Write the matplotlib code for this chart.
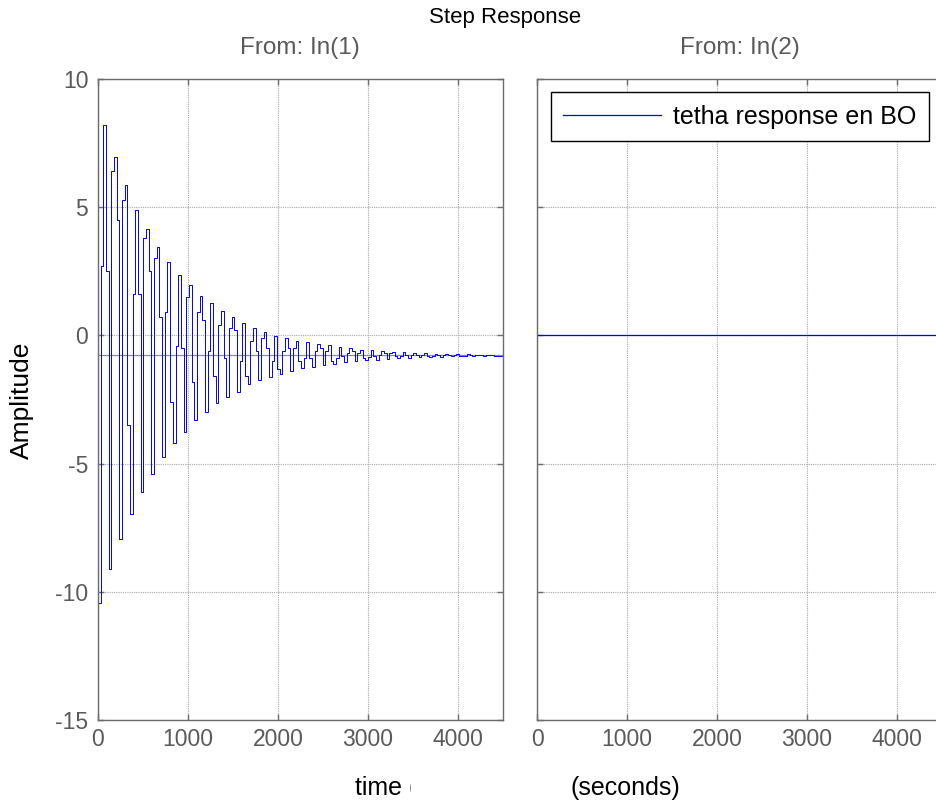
"""
Step response of the two-input plant, one panel per input.
Left: discrete output for In(1); right: the flat response for In(2).
"""

import matplotlib

matplotlib.use("Agg")
import matplotlib.pyplot as plt
from matplotlib.transforms import Bbox

# sample period of the discrete model (s)
SAMPLE_TIME = 29.7
T_END = 4500
STEADY_STATE = -0.78

# one entry per oscillation cycle: trough -> rise -> peak -> fall -> next trough
troughs = [-10.45, -9.1, -7.95, -6.95, -6.1, -5.4, -4.75, -4.2, -3.75, -3.3,
           -2.97, -2.65, -2.4, -2.2, -1.9, -1.75, -1.63, -1.5, -1.37, -1.28,
           -1.22, -1.16, -1.1, -1.05, -1.01, -0.97, -0.94, -0.91, -0.89, -0.87,
           -0.85, -0.84, -0.83, -0.82, -0.81, -0.8, -0.8, -0.79]
rises = [2.7, 6.4, 5.3, 1.6, 3.8, 3.0, 0.9, -0.4, 1.5, 0.9,
         -0.6, 0.4, 0.3, -1.0, -0.2, -0.1, -1.0, -0.6, -0.5, -0.9,
         -0.6, -0.6, -0.9, -0.7, -0.7, -0.85, -0.75, -0.7, -0.8, -0.75,
         -0.75, -0.8, -0.77, -0.76, -0.79, -0.78, -0.77]
peaks = [8.2, 6.95, 5.86, 4.9, 4.14, 3.44, 2.85, 2.34, 1.95, 1.52,
         1.25, 0.94, 0.7, 0.47, 0.29, 0.13, -0.03, -0.1, -0.2, -0.26,
         -0.35, -0.39, -0.45, -0.5, -0.55, -0.58, -0.61, -0.64, -0.66, -0.68,
         -0.7, -0.71, -0.72, -0.73, -0.74, -0.75, -0.76]
falls = [2.5, 4.5, -3.5, 1.6, 2.5, 0.7, -2.6, -0.5, -1.8, 0.6,
         -1.6, -0.9, 0.2, -1.6, -0.6, -0.5, -1.3, -0.5, -1.0, -0.9,
         -0.5, -1.0, -0.8, -0.6, -0.9, -0.8, -0.7, -0.8, -0.78, -0.75,
         -0.8, -0.78, -0.77, -0.79, -0.78, -0.78, -0.78]

# input 2 does not reach the output
in2_time = [0, T_END]
in2_resp = [0, 0]

x_ticks = [0, 1000, 2000, 3000, 4000]
y_ticks = [-15, -10, -5, 0, 5, 10]

BLUE = "#0000ff"
AXIS_GRAY = "#6b6b6b"
LABEL_GRAY = "#5a5a5a"
FONT = "Liberation Sans"

plt.rcParams["font.family"] = [FONT, "DejaVu Sans"]
plt.rcParams["axes.unicode_minus"] = False

samples = []
for k in range(len(peaks)):
    samples += [troughs[k], rises[k], peaks[k], falls[k]]
samples.append(troughs[-1])
times = [i * SAMPLE_TIME for i in range(len(samples))]
# start from rest, hold the last sample to the end of the window
t_plot = [0] + times + [T_END]
y_plot = [0] + samples + [samples[-1]]

W, H = 936, 802
fig = plt.figure(figsize=(W / 100, H / 100), dpi=100)
ax_l = fig.add_axes([98 / W, (H - 720) / H, 405 / W, 641 / H])
ax_r = fig.add_axes([537 / W, (H - 720) / H, 405 / W, 641 / H])

for ax in (ax_l, ax_r):
    ax.set_xlim(0, T_END)
    ax.set_ylim(-15, 10)
    ax.set_xticks(x_ticks)
    ax.set_yticks(y_ticks)
    ax.grid(True, color="#a8a8a8", linestyle=(0, (1, 1)), linewidth=0.8)
    ax.set_axisbelow(True)
    ax.tick_params(direction="in", length=4, width=1, color=AXIS_GRAY,
                   top=True, right=True, labelsize=16.5, labelcolor=LABEL_GRAY)
    ax.tick_params(axis="x", pad=6)
    ax.tick_params(axis="y", pad=7)
    for sp in ax.spines.values():
        sp.set_color(AXIS_GRAY)
        sp.set_linewidth(1.0)

ax_r.tick_params(labelleft=False)

ax_l.axhline(STEADY_STATE, color="#8c8c8c", linewidth=0.9, zorder=1.5)
ax_l.step(t_plot, y_plot, where="post", color=BLUE, linewidth=0.7)

ax_r.plot(in2_time, in2_resp, color=BLUE, linewidth=0.9,
          label="tetha response en BO")
leg = ax_r.legend(loc="upper right", bbox_to_anchor=(0.968, 0.979),
                  fontsize=18, frameon=True, fancybox=False, framealpha=1,
                  edgecolor="black", handlelength=3.9, handletextpad=0.5,
                  borderpad=0.5, borderaxespad=0)
leg.get_frame().set_linewidth(1.0)
for txt in leg.get_texts():
    txt.set_color("black")

fig.text(505 / W, 1 - 17 / H, "Step Response", ha="center", va="center",
         fontsize=16, color="black")
fig.text(300 / W, 1 - 48 / H, "From: In(1)", ha="center", va="center",
         fontsize=17.5, color=LABEL_GRAY)
fig.text(740 / W, 1 - 48 / H, "From: In(2)", ha="center", va="center",
         fontsize=17.5, color=LABEL_GRAY)
fig.text(22 / W, 1 - 400 / H, "Amplitude", ha="center", va="center",
         rotation=90, fontsize=19, color="black")

# x label: the left half is cut off where the second panel starts
t_left = fig.text(355 / W, 1 - 788 / H, "time (", ha="left", va="center",
                  fontsize=18, color="black")
t_left.set_clip_on(True)
t_left.set_clip_box(Bbox.from_extents(0, 0, 411, H))
fig.text(625 / W, 1 - 788 / H, "(seconds)", ha="center", va="center",
         fontsize=18, color="black")

fig.savefig("out.png", dpi=100)
